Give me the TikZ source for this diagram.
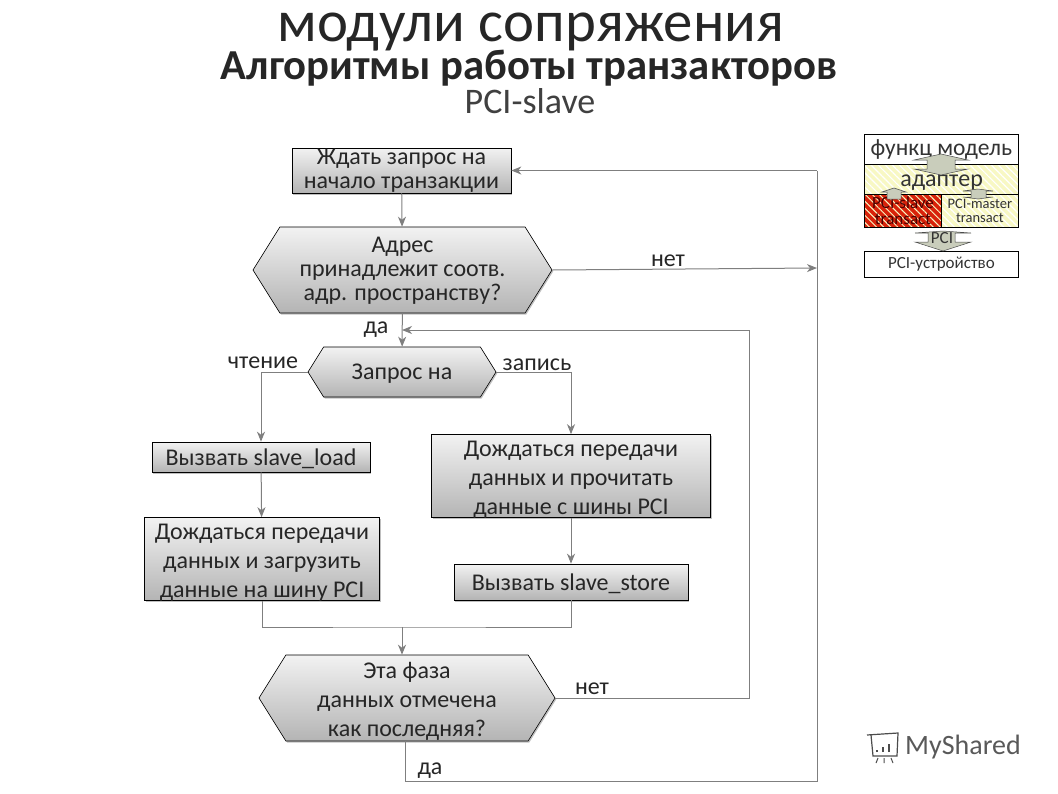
\documentclass[tikz,border=0pt]{standalone}
\usepackage{fontspec}
\setmainfont{Carlito}
\usetikzlibrary{shapes.symbols, shadows, patterns.meta, arrows.meta}
\tikzset{>={Stealth[length=10pt,width=8pt,inset=3pt]}}
\definecolor{linegray}{HTML}{7F7F7F}
\definecolor{boxtop}{HTML}{F2F2F2}
\definecolor{boxbottom}{HTML}{B4B4B4}
\definecolor{arrowfill}{HTML}{C9CDBB}
\definecolor{hatchyellow}{HTML}{F8F8C4}
\definecolor{hatchred}{HTML}{D8220A}
\newcommand{\topgap}{\rule{0pt}{23pt}}
\tikzset{
  flow/.style = {draw = black, line width = 0.6pt, top color = boxtop, bottom color = boxbottom, align = center, text = black!85,
    font = \fontsize{24}{24}\selectfont, inner xsep = 0pt, inner ysep = -5pt,
    drop shadow = {shadow xshift = 1.2pt, shadow yshift = -1.5pt, opacity = 0.5}},
  tallflow/.style = {flow, font = \fontsize{24}{29}\selectfont},
  hexa/.style = {shape = signal, signal to = west and east, signal pointer angle = 116},
  link/.style = {draw = linegray, line width = 1pt},
  tag/.style = {font = \fontsize{24}{24}\selectfont, text = black!85, inner sep = 0pt},
  cell/.style = {draw = black, line width = 0.8pt, inner sep = 0pt, anchor = north west, align = center, text = black!80},
  hatchy/.style = {preaction = {fill = hatchyellow}, pattern = {Lines[angle = 135, distance = 5pt, line width = 1.2pt]}, pattern color = white},
  hatchr/.style = {preaction = {fill = hatchred}, pattern = {Lines[angle = 135, distance = 5pt, line width = 1pt]}, pattern color = hatchyellow},
  blockarrow/.style = {draw = black!70, fill = arrowfill, line width = 0.5pt}
}
\begin{document}
\begin{tikzpicture}[x = 1pt, y = -1pt]
\useasboundingbox (0,0) rectangle (1058,793);
% titles
\node[inner sep = 0pt, anchor = base, font = \fontsize{58.8}{58.8}\selectfont, text = black!85] (title) at (531,41) {модули сопряжения};
\node[inner sep = 0pt, anchor = base, font = \fontsize{42.7}{42.7}\selectfont\bfseries, text = black!85] (subtitle) at (529,79) {Алгоритмы работы транзакторов};
\node[inner sep = 0pt, anchor = base, font = \fontsize{36}{36}\selectfont, text = black!75] (pcislave) at (530,113) {PCI-slave};
% flow chart
\node[flow, minimum width = 219pt, minimum height = 45pt] (wait) at (401.5,170.5) {\rule{0pt}{16pt}Ждать запрос на\\начало транзакции};
\node[flow, hexa, minimum width = 299pt, minimum height = 86pt] (addr) at (402.5,270) {\rule{0pt}{17pt}Адрес\\принадлежит соотв.\\адр. пространству?};
\node[flow, hexa, minimum width = 188pt, minimum height = 50pt] (req) at (402,372) {\rule{0pt}{19pt}Запрос на};
\node[flow, minimum width = 218pt, minimum height = 30pt] (load) at (261,457) {\rule{0pt}{21pt}Вызвать slave\_load};
\node[tallflow, minimum width = 279pt, minimum height = 83pt] (readbus) at (571,476) {\topgap Дождаться передачи\\данных и прочитать\\данные с шины PCI};
\node[tallflow, minimum width = 235pt, minimum height = 83pt] (putbus) at (262,559) {\topgap Дождаться передачи\\данных и загрузить\\данные на шину PCI};
\node[flow, minimum width = 234pt, minimum height = 36pt] (store) at (571,582) {\rule{0pt}{21pt}Вызвать slave\_store};
\node[tallflow, hexa, minimum width = 296pt, minimum height = 86pt] (last) at (407,698) {\topgap Эта фаза\\данных отмечена\\как последняя?};
% free ends and bends
\coordinate (busin) at (817,268);
\coordinate (busbot) at (817,781);
\coordinate (bustop) at (817,170.5);
\coordinate (donebot) at (405,781);
\coordinate (nobend) at (749,698);
\coordinate (notop) at (749,330);
\coordinate (nohit) at (402,330);
\coordinate (merge) at (402,627);
\draw[link, ->] (wait) -- (addr);
\draw[link, ->] (addr) -- (req);
\draw[link, ->] (addr.east) -- (busin);
\draw[link] (last.south -| donebot) -- (donebot) -- (busbot) -- (bustop);
\draw[link, ->] (bustop) -- (wait.east);
\draw[link] (last.east) -- (nobend) -- (notop);
\draw[link, ->] (notop) -- (nohit);
\draw[link, ->] (req.west) -| (load.north);
\draw[link, ->] (req.east) -| (readbus.north);
\draw[link, ->] (load) -- (putbus);
\draw[link, ->] (readbus) -- (store);
\draw[link] (putbus.south) |- (merge) -| (store.south);
\draw[link, ->] (merge) -- (merge |- last.north);
% labels
\node[tag] (no1) at (668,261) {нет};
\node[tag] (yes1) at (376,330) {да};
\node[tag] (rd) at (263,363) {чтение};
\node[tag] (wr) at (537,365) {запись};
\node[tag] (no2) at (592,689) {нет};
\node[tag] (yes2) at (430,771) {да};
% small scheme
\node[cell, minimum width = 154pt, minimum height = 30pt, font = \fontsize{23.5}{24}\selectfont] (func) at (864,134) {\rule{0pt}{17pt}функц модель};
\node[cell, hatchy, minimum width = 154pt, minimum height = 30pt, font = \fontsize{24}{24}\selectfont] (adapter) at (864,164) {\rule{0pt}{17pt}адаптер};
\node[cell, hatchr, minimum width = 77pt, minimum height = 33pt, font = \fontsize{17}{16}\selectfont, text = red!30!black] (slave) at (864,194) {PCI-slave\\transact};
\node[cell, hatchy, minimum width = 77pt, minimum height = 33pt, font = \fontsize{14.5}{14}\selectfont] (master) at (941,194) {PCI-master\\transact};
\node[cell, minimum width = 154pt, minimum height = 26pt, font = \fontsize{17}{17}\selectfont] (device) at (864,251) {PCI-устройство};
\draw[blockarrow] (941,154) -- (968,160) -- (955,160) -- (955,169) -- (968,169) -- (941,175) -- (914,169) -- (927,169) -- (927,160) -- (914,160) -- cycle;
\draw[blockarrow] (894,188) -- (906,192) -- (901,192) -- (901,199) -- (887,199) -- (887,192) -- (882,192) -- cycle;
\draw[blockarrow] (978,189) -- (993,191) -- (986,191) -- (986,197) -- (993,197) -- (978,199) -- (963,197) -- (971,197) -- (971,191) -- (963,191) -- cycle;
\draw[blockarrow] (943,231) -- (971,233) -- (955,233) -- (955,242) -- (971,242) -- (943,251) -- (915,242) -- (928,242) -- (928,233) -- (915,233) -- cycle;
\node[inner sep = 0pt, font = \fontsize{17}{17}\selectfont, text = black!80] (pcitext) at (942,238) {PCI};
% logo
\node[inner sep = 0pt, anchor = west, font = \fontsize{28}{28}\selectfont, text = black!65] (logo) at (905,747) {MyShared};
\draw[black!70, line width = 1.2pt] (867,735) -- (898,733) -- (897,756) -- (873,756) -- (871,735);
\foreach \x/\h in {877/2,883/5,889/8} \draw[black!70, line width = 2pt] (\x,752) -- (\x,752-\h);
\draw[black!70, line width = 1pt] (878,758) -- (876,763) (884,758) -- (884,763) (891,758) -- (893,763);
\end{tikzpicture}
\end{document}
